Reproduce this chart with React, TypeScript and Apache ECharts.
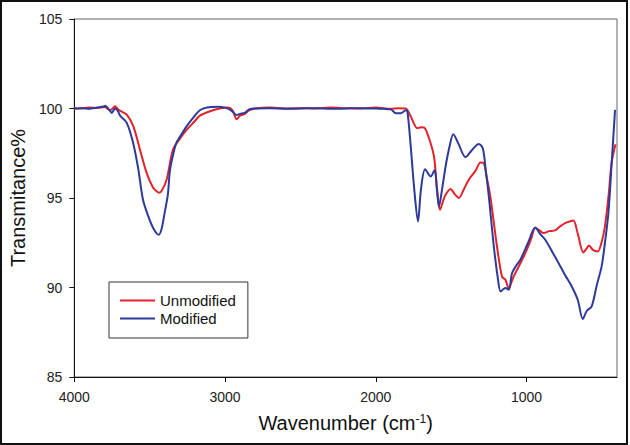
import React, { useEffect, useRef } from "react";
import * as echarts from "echarts";

const xTicks = [1000, 2000, 3000, 4000];
const yRange = { min: 85, max: 105, step: 5 };

const unmodified: [number, number][] = [
  [4000, 100.0], [3950, 100.02], [3900, 100.05], [3850, 100.03], [3800, 100.08], [3762, 99.9], [3740, 100.05],
  [3729, 100.12], [3710, 99.95], [3680, 99.8], [3650, 99.64], [3608, 99.0], [3564, 97.7], [3520, 96.4],
  [3477, 95.57], [3450, 95.35], [3436, 95.3], [3420, 95.4], [3388, 96.0], [3345, 97.7], [3300, 98.3],
  [3255, 98.8], [3200, 99.3], [3167, 99.6], [3100, 99.85], [3035, 100.0], [2980, 100.05], [2950, 99.9],
  [2923, 99.4], [2900, 99.6], [2870, 99.7], [2840, 99.9], [2800, 100.0], [2700, 100.05], [2600, 100.0],
  [2500, 100.02], [2400, 100.0], [2300, 100.05], [2200, 100.02], [2100, 100.0], [2000, 100.05], [1900, 99.98],
  [1850, 100.02], [1801, 100.0], [1768, 99.55], [1724, 98.9], [1700, 98.95], [1680, 98.94], [1647, 98.34],
  [1614, 97.32], [1599, 96.02], [1585, 94.8], [1574, 94.34], [1555, 94.8], [1537, 95.18], [1504, 95.5],
  [1475, 95.2], [1449, 95.0], [1415, 95.5], [1383, 96.02], [1340, 96.5], [1305, 96.98], [1284, 96.95],
  [1265, 96.2], [1240, 95.08], [1196, 92.29], [1163, 90.62], [1140, 90.43], [1118, 89.97], [1100, 90.3],
  [1085, 90.62], [1050, 91.2], [1008, 91.92], [970, 92.7], [942, 93.32], [915, 93.2], [887, 93.04],
  [850, 93.15], [810, 93.19], [780, 93.4], [744, 93.6], [710, 93.7], [689, 93.74], [660, 93.0],
  [623, 91.96], [600, 92.2], [585, 92.35], [560, 92.1], [528, 92.01], [500, 92.6], [480, 93.41],
  [455, 95.2], [436, 96.95], [410, 98.0],
];

const modified: [number, number][] = [
  [4000, 100.0], [3950, 100.02], [3900, 99.98], [3850, 100.05], [3800, 100.12], [3795, 100.15], [3770, 99.95],
  [3751, 99.75], [3729, 100.0], [3710, 99.85], [3696, 99.6], [3652, 99.2], [3610, 98.1], [3575, 96.6],
  [3544, 94.9], [3510, 94.0], [3475, 93.3], [3440, 92.95], [3420, 93.3], [3400, 94.2], [3379, 95.2],
  [3366, 96.5], [3345, 97.4], [3322, 98.1], [3300, 98.4], [3255, 99.0], [3200, 99.6], [3167, 99.9],
  [3120, 100.05], [3050, 100.1], [3000, 100.05], [2960, 99.9], [2923, 99.64], [2900, 99.7], [2870, 99.75],
  [2840, 99.95], [2800, 100.0], [2700, 100.02], [2600, 99.98], [2500, 100.0], [2400, 100.02], [2300, 99.98],
  [2200, 100.0], [2100, 100.02], [2000, 100.0], [1950, 99.98], [1900, 99.95], [1867, 99.74], [1834, 99.74],
  [1801, 99.9], [1790, 99.83], [1768, 97.87], [1745, 95.5], [1720, 93.69], [1700, 95.5], [1673, 96.61],
  [1636, 96.2], [1610, 96.57], [1595, 95.5], [1581, 94.53], [1560, 95.5], [1537, 96.76], [1510, 97.9],
  [1486, 98.56], [1450, 98.0], [1405, 97.28], [1360, 97.7], [1317, 98.02], [1290, 97.78], [1270, 96.5],
  [1250, 95.08], [1217, 92.29], [1190, 90.5], [1173, 89.78], [1155, 89.9], [1140, 89.97], [1118, 89.88],
  [1096, 90.81], [1070, 91.2], [1041, 91.55], [990, 92.5], [942, 93.35], [910, 93.0], [876, 92.67],
  [830, 92.0], [788, 91.37], [745, 90.7], [700, 90.06], [660, 89.3], [627, 88.24], [600, 88.7],
  [568, 88.95], [535, 90.1], [502, 91.18], [480, 92.5], [457, 94.16], [435, 97.0], [413, 99.92],
];

const FONT = "'Liberation Sans', Arial, sans-serif";

export default function App() {
  const ref = useRef<HTMLDivElement>(null);
  useEffect(() => {
    document.body.style.margin = "0";
    const chart = echarts.init(ref.current!, undefined, { renderer: "svg" });
    chart.setOption({
      animation: false,
      backgroundColor: "#ffffff",
      textStyle: { fontFamily: FONT },
      grid: {
        left: 74, right: 13, top: 19, bottom: 68,
        show: true, borderColor: "#666", borderWidth: 1,
      },
      legend: {
        orient: "vertical",
        left: 109, top: 282,
        padding: [11, 12, 12, 11],
        borderColor: "#333", borderWidth: 1,
        icon: "rect",
        itemWidth: 35, itemHeight: 2, itemGap: 3,
        textStyle: { fontSize: 15, color: "#111", fontFamily: FONT, lineHeight: 15 },
        data: ["Unmodified", "Modified"],
      },
      graphic: [
        {
          type: "rect", shape: { x: 1, y: 1, width: 626, height: 443 },
          style: { fill: "none", stroke: "#111", lineWidth: 2 }, silent: true,
        },
      ],
      xAxis: {
        type: "value", inverse: true, min: 400, max: 4000,
        name: "Wavenumber (cm{sup|-1})",
        nameLocation: "middle", nameGap: 36,
        nameTextStyle: {
          fontSize: 20, color: "#111", fontFamily: FONT,
          rich: { sup: { fontSize: 12, verticalAlign: "top", color: "#111", fontFamily: FONT } },
        },
        axisLine: { show: true, lineStyle: { color: "#111", width: 1 } },
        axisTick: { show: true, inside: false, length: 5, customValues: xTicks, lineStyle: { color: "#111" } },
        axisLabel: {
          customValues: xTicks, fontSize: 14, color: "#222", margin: 13, fontFamily: FONT,
          formatter: (v: number) => String(v),
        },
        splitLine: { show: false },
      },
      yAxis: {
        type: "value", min: yRange.min, max: yRange.max, interval: yRange.step,
        name: "Transmitance%",
        nameLocation: "middle", nameGap: 45,
        nameTextStyle: { fontSize: 20, color: "#111", fontFamily: FONT },
        axisLine: { show: true, lineStyle: { color: "#111", width: 1 } },
        axisTick: { show: true, inside: false, length: 5, lineStyle: { color: "#111" } },
        axisLabel: { fontSize: 14, color: "#222", margin: 12, fontFamily: FONT },
        splitLine: { show: false },
      },
      series: [
        {
          name: "Unmodified", type: "line", data: unmodified, symbol: "none", smooth: 0.3,
          lineStyle: { color: "#e3232c", width: 2 }, itemStyle: { color: "#e3232c" }, z: 2,
        },
        {
          name: "Modified", type: "line", data: modified, symbol: "none", smooth: 0.3,
          lineStyle: { color: "#2d3a9b", width: 2 }, itemStyle: { color: "#2d3a9b" }, z: 3,
        },
      ],
    });
    return () => chart.dispose();
  }, []);
  return <div ref={ref} style={{ width: 630, height: 445 }} />;
}
